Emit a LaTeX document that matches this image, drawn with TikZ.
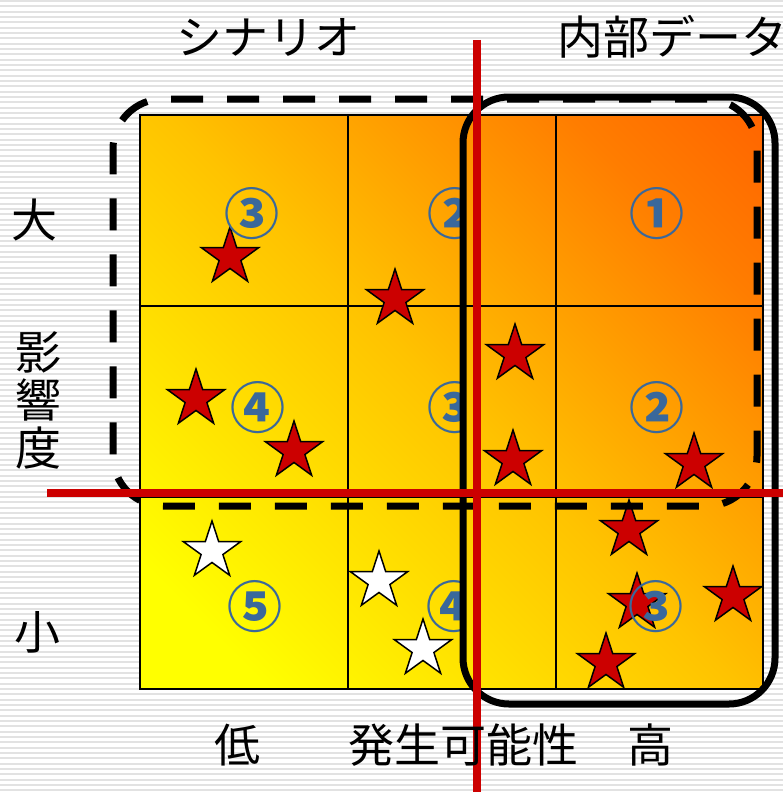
\documentclass[tikz,border=0pt]{standalone}
\usepackage{fontspec}
\setmainfont{Noto Sans CJK JP}
\usetikzlibrary{shapes.geometric}

\definecolor{riskred}{RGB}{204,0,0}
\definecolor{numblue}{RGB}{58,104,155}
\definecolor{stripe}{RGB}{226,226,226}
\definecolor{hot}{RGB}{255,100,0}
\definecolor{warm}{RGB}{255,125,0}
\definecolor{mid}{RGB}{255,195,0}

% diagonal yellow-orange ramp
\pgfdeclareverticalshading{heatramp}{100bp}{color(0bp)=(yellow); color(22bp)=(yellow);
	color(50bp)=(mid); color(74bp)=(warm); color(86bp)=(hot); color(100bp)=(hot)}

\tikzset{
	axislabel/.style={font=\fontsize{46}{46}\selectfont, inner sep=0pt},
	cellnum/.style={font=\fontsize{55}{55}\selectfont\bfseries, text=numblue, inner sep=0pt},
	redstar/.style={star, star points=5, star point ratio=2.618, minimum size=60pt, inner sep=0pt, draw=black, line width=1.5pt, fill=riskred},
	whitestar/.style={redstar, fill=white},
	heat/.style={shading=heatramp, shading angle=-45},
}

\begin{document}
\begin{tikzpicture}[x=1pt, y=-1pt]
	\useasboundingbox (0,0) rectangle (783,792);
	
	% background
	\fill[white] (0,0) rectangle (783,792);
	\foreach \y in {1,6.333,...,792}
		\draw[stripe, line width=2pt] (0,\y) -- (783,\y);
	
	% matrix
	\shade[heat] (140,115) rectangle (763,689);
	\node[cellnum] (m12) at (455,214) {②};
	\node[cellnum] (m22) at (455,408) {③};
	\node[cellnum] (m32) at (454,607) {④};
	\begin{scope}
		\clip[rounded corners=46pt] (463,97) rectangle (775,704);
		\shade[heat] (140,115) rectangle (763,689);
	\end{scope}
	\draw[line width=2.3pt] (140,115) rectangle (763,689);
	\draw[line width=2.3pt] (348,115) -- (348,689) (556,115) -- (556,689)
		(140,306) -- (763,306) (140,497) -- (763,497);
	
	% events
	\foreach \x/\y [count=\i] in {230/257, 395/299, 515/354, 196/399, 294/451, 513/460,
		694/463, 629/530, 637/603, 733/596, 606/663}
		\node[redstar] (r\i) at (\x,\y) {};
	\foreach \x/\y [count=\i] in {212/551, 379/581, 423/649}
		\node[whitestar] (w\i) at (\x,\y) {};
	
	% rank
	\node[cellnum] (m11) at (252,214) {③};
	\node[cellnum] (m13) at (657,214) {①};
	\node[cellnum] (m21) at (258,408) {④};
	\node[cellnum] (m23) at (657,408) {②};
	\node[cellnum] (m31) at (255,607) {⑤};
	\node[cellnum] (m33) at (656,607) {③};
	
	% scenario / internal data
	\draw[line width=7pt, dash pattern=on 32pt off 24pt, rounded corners=50pt] (757,99) -- (113,99) -- (113,506) -- (757,506) -- cycle;
	\draw[line width=7pt, rounded corners=46pt] (463,97) rectangle (775,704);
	\node[axislabel] (scen) at (268,37) {シナリオ};
	\node[axislabel, anchor=west] (data) at (557,37) {内部データ};
	
	% axes
	\draw[riskred, line width=7.5pt] (477,40) -- (477,792);
	\draw[riskred, line width=7.5pt] (47,493) -- (783,493);
	\node[axislabel] (big) at (35,220) {大};
	\node[axislabel] (imp1) at (38,352) {影};
	\node[axislabel] (imp2) at (38,400) {響};
	\node[axislabel] (imp3) at (38,448) {度};
	\node[axislabel] (small) at (37,632) {小};
	\node[axislabel] (low) at (237,745) {低};
	\node[axislabel] (prob) at (463,745) {発生可能性};
	\node[axislabel] (high) at (650,745) {高};
\end{tikzpicture}
\end{document}
